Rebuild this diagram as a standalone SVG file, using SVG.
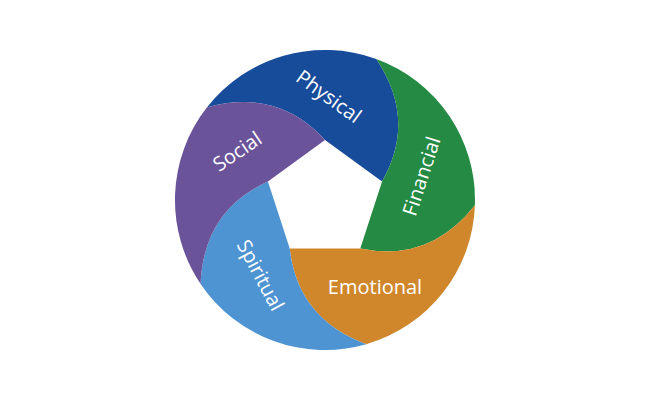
<svg xmlns="http://www.w3.org/2000/svg" width="650" height="400" viewBox="0 0 650 400">
<style>
.t{font-family:"Open Sans","Liberation Sans",sans-serif;font-size:20px;fill:#fff;text-anchor:middle;dominant-baseline:central}
.s{stroke:none}
</style>
<rect width="650" height="400" fill="#fff"/>
<g id="physical"><path class="s" fill="#174c9b" d="M325,140 L382.07,181.46 Q417.1,120 376.3,59 A150,150 0 0 0 206.8,107.6 Q277.3,87.7 325,140 Z"/><text class="t" transform="translate(329,96) rotate(36)">Physical</text></g>
<g id="financial"><path class="s" fill="#248a44" d="M382.07,181.46 L360.27,248.54 Q429.6,262.8 474.9,205.2 A150,150 0 0 0 376.3,59 Q417.1,120 382.07,181.46 Z"/><text class="t" transform="translate(421,176) rotate(-72)">Financial</text></g>
<g id="emotional"><path class="s" fill="#d0872c" d="M360.27,248.54 L289.73,248.54 Q297.6,318.9 366.3,344.2 A150,150 0 0 0 474.9,205.2 Q429.6,262.8 360.27,248.54 Z"/><text class="t" transform="translate(375,286) rotate(0)">Emotional</text></g>
<g id="spiritual"><path class="s" fill="#4e93d2" d="M289.73,248.54 L267.93,181.46 Q203.5,210.6 200.6,283.9 A150,150 0 0 0 366.3,344.2 Q297.6,318.9 289.73,248.54 Z"/><text class="t" transform="translate(261,275) rotate(62)">Spiritual</text></g>
<g id="social"><path class="s" fill="#6b5399" d="M267.93,181.46 L325,140 Q277.3,87.7 206.8,107.6 A150,150 0 0 0 200.6,283.9 Q203.5,210.6 267.93,181.46 Z"/><text class="t" transform="translate(237,151) rotate(-34)">Social</text></g>
<g id="connectors"></g>
</svg>
